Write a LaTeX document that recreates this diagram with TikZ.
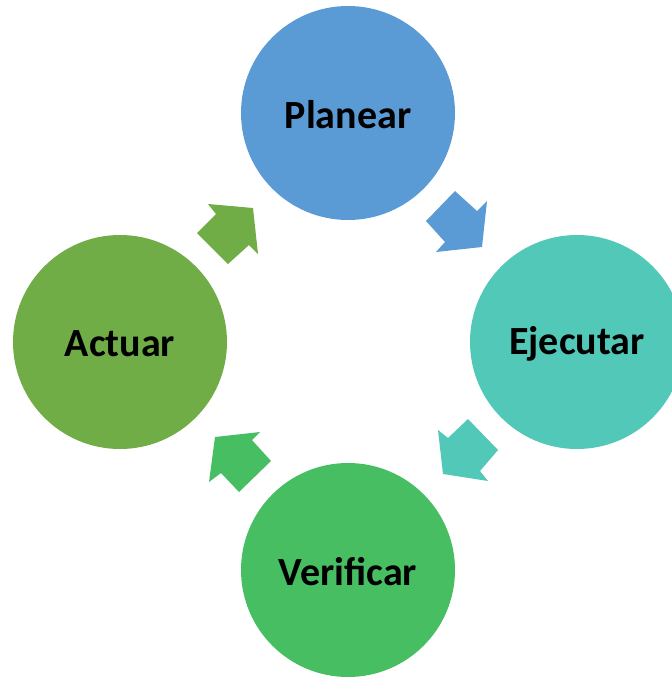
\documentclass[tikz,border=0pt]{standalone}
\usepackage{fontspec}
\setmainfont{Carlito}
\definecolor{cplan}{HTML}{5B9BD5}
\definecolor{cejec}{HTML}{52C8B8}
\definecolor{cveri}{HTML}{48BE63}
\definecolor{cact}{HTML}{70AD47}
\tikzset{
  stage/.style={circle, minimum size=214pt, inner sep=0pt},
  stagetext/.style={font=\bfseries\fontsize{40}{42}\selectfont, text=black, yshift=-2pt, inner sep=0pt},
  blockarrow/.style={draw=none}
}
\begin{document}
\begin{tikzpicture}[x=1pt,y=-1pt]
\useasboundingbox (0,0) rectangle (672,678);
\clip (0,0) rectangle (672,678);
\node[stage, fill=cplan, label={[stagetext]center:Planear}] (plan) at (348,113) {};
\node[stage, fill=cejec, label={[stagetext]center:Ejecutar}] (ejec) at (577,342) {};
\node[stage, fill=cveri, label={[stagetext]center:Verificar}] (veri) at (348,570) {};
\node[stage, fill=cact, label={[stagetext]center:Actuar}] (act) at (120,342) {};
% arrows
\fill[blockarrow, cact] (208,204) -- (253,208) -- (258,254) -- (249,245) -- (228,264) -- (197,233) -- (216,214) -- cycle;
\fill[blockarrow, cplan] (455,191) -- (477,211) -- (487,201) -- (482,247) -- (436,252) -- (445,242) -- (426,221) -- cycle;
\fill[blockarrow, cejec] (468,419) -- (498,450) -- (480,471) -- (488,481) -- (443,474) -- (438,430) -- (448,438) -- cycle;
\fill[blockarrow, cveri] (215,437) -- (260,432) -- (252,440) -- (271,461) -- (239,492) -- (221,473) -- (209,482) -- cycle;
\end{tikzpicture}
\end{document}
